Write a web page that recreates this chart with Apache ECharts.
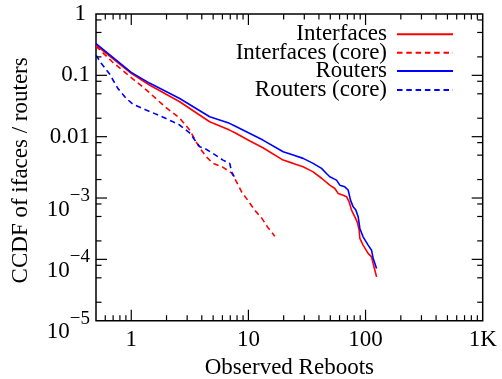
<!DOCTYPE html>
<html><head><meta charset="utf-8">
<script src="https://cdn.jsdelivr.net/npm/echarts@6/dist/echarts.min.js"></script>
<style>html,body{margin:0;padding:0;background:#fff}#c{width:502px;height:379px}</style>
</head><body><div id="c"></div>
<script>
// ---- data ----
const ifaceX = [0.5, 1, 1.43, 2.59, 4.67, 6.9, 7.67, 10.3, 13.3, 19.8, 24.1, 29.3, 33.4, 35.7, 42.1, 49.5, 54.7, 58.3, 64.4, 68.8, 72.4, 75.9, 81.0, 84.8, 88.2, 89.4, 95.3, 105.2, 112.5, 116.1, 124.2];
const ifaceY = [0.312, 0.108, 0.0695, 0.0371, 0.0175, 0.0128, 0.0116, 0.0085, 0.0066, 0.00415, 0.00367, 0.00323, 0.00285, 0.00267, 0.0021, 0.00162, 0.00143, 0.00119, 0.00111, 0.00105, 0.000867, 0.000635, 0.000493, 0.000409, 0.000299, 0.000219, 0.000171, 0.000125, 0.00011, 0.0000857, 0.0000519];

const ifaceCoreX = [0.5, 0.69, 1, 1.35, 1.93, 2.59, 3.15, 3.84, 4.4, 4.95, 6.03, 7.2, 7.94, 8.77, 9.86, 11.3, 13, 14.6, 16.8];
const ifaceCoreY = [0.30, 0.165, 0.092, 0.0575, 0.031, 0.0201, 0.0128, 0.00652, 0.00465, 0.00371, 0.00319, 0.00255, 0.00182, 0.00125, 0.000924, 0.000635, 0.00047, 0.000335, 0.000239];

const routerX = [0.5, 1, 1.43, 2.59, 4.67, 6.9, 7.67, 10.3, 13.3, 19.8, 24.1, 29.3, 35.7, 42.1, 46.4, 49.5, 56.5, 60.3, 66.5, 71.0, 74.4, 78.4, 82.6, 86.5, 88.2, 89.4, 95.3, 105.2, 112.5, 116.1, 124.2];
const routerY = [0.33, 0.112, 0.0748, 0.042, 0.0211, 0.0165, 0.0149, 0.0113, 0.0088, 0.00567, 0.00501, 0.00443, 0.00367, 0.00304, 0.00251, 0.00222, 0.00196, 0.00162, 0.00152, 0.00135, 0.000924, 0.000718, 0.000635, 0.000493, 0.000385, 0.000319, 0.000233, 0.000171, 0.000141, 0.000104, 0.000071];

const routerCoreX = [0.5, 0.554, 0.653, 0.768, 0.906, 1.03, 1.34, 1.74, 2.27, 2.59, 3.15, 3.84, 4.23, 4.98, 6.07, 6.93, 7.2, 7.65];
const routerCoreY = [0.214, 0.157, 0.105, 0.0613, 0.0421, 0.034, 0.0272, 0.0221, 0.0175, 0.0155, 0.0115, 0.00684, 0.00644, 0.00534, 0.00415, 0.00366, 0.00264, 0.00215];

const seriesNames = ['Interfaces', 'Interfaces (core)', 'Routers', 'Routers (core)'];

const xMajor = [1, 10, 100];
const xMajorLabels = {0: '1', 1: '10', 2: '100', 3: '1K'};
const xMinor = [0.6, 0.7, 0.8, 0.9, 2, 3, 4, 5, 6, 7, 8, 9, 20, 30, 40, 50, 60, 70, 80, 90, 200, 300, 400, 500, 600, 700, 800, 900];
const yMajor = [0.1, 0.01, 0.001, 0.0001];
const yMajorLabels = {0: '{one|1}', '-1': '0.1', '-2': '0.01', '-3': '{b|10}{s|\u22123}', '-4': '{b|10}{s|\u22124}', '-5': '{b|10}{s|\u22125}'};
const yMinor = [0.8, 0.5, 0.2, 0.08, 0.05, 0.02, 0.008, 0.005, 0.002, 0.0008, 0.0005, 0.0002, 0.00008, 0.00005, 0.00002];

// ---- chart ----
const FONT = 'Liberation Serif';
const zip = (xs, ys) => xs.map((x, i) => [x, ys[i]]);
const RED = '#ff0000', BLUE = '#0000ff';
const DASH = [5.5, 3.8];

const tickData = []
  .concat(xMajor.map(v => [v, 1, 0, 11]))
  .concat(xMinor.map(v => [v, 1, 0, 5.5]))
  .concat(yMajor.map(v => [1, v, 1, 11]))
  .concat(yMinor.map(v => [1, v, 1, 5.5]));

const X_MIN = 0.5, X_MAX = 1000, Y_MIN = 1e-5, Y_MAX = 1;

function lineSeries(name, data, color, dashed) {
  return {
    name: name, type: 'line', data: data, symbol: 'none', smooth: false,
    lineStyle: {color: color, width: 1.6, type: dashed ? DASH : 'solid'},
    itemStyle: {color: color},
    emphasis: {disabled: true}, animation: false
  };
}

const legendTops = [22.3, 40.7, 59, 78];
const legends = seriesNames.map((n, i) => ({
  data: [n], right: 48, top: legendTops[i], orient: 'vertical', align: 'right',
  itemWidth: 56, itemHeight: 10, itemGap: 0, padding: 0, selectedMode: false,
  itemStyle: {opacity: 0, borderWidth: 0},
  textStyle: {fontFamily: FONT, fontSize: 23, color: '#000', lineHeight: 20, padding: [4, 5, 0, 0]}
}));

const chart = echarts.init(document.getElementById('c'), null, {renderer: 'canvas'});
chart.setOption({
  animation: false,
  backgroundColor: '#fff',
  legend: legends,
  grid: {left: 96, top: 14, width: 386.7, height: 306.7, show: true, borderColor: '#000', borderWidth: 1.5,
         backgroundColor: 'transparent', containLabel: false, outerBoundsMode: 'none'},
  xAxis: {
    type: 'log', logBase: 10, min: X_MIN, max: X_MAX,
    axisLine: {show: false}, axisTick: {show: false}, splitLine: {show: false}, minorTick: {show: false},
    axisLabel: {
      margin: 7.5, fontFamily: FONT, fontSize: 23, color: '#000', hideOverlap: false,
      formatter: v => { const e = Math.log10(v); const r = Math.round(e); return Math.abs(e - r) < 1e-6 && xMajorLabels[r] !== undefined ? xMajorLabels[r] : ''; }
    },
    name: 'Observed Reboots', nameLocation: 'middle', nameGap: 35,
    nameTextStyle: {fontFamily: FONT, fontSize: 23, color: '#000'}
  },
  yAxis: {
    type: 'log', logBase: 10, min: Y_MIN, max: Y_MAX,
    axisLine: {show: false}, axisTick: {show: false}, splitLine: {show: false}, minorTick: {show: false},
    axisLabel: {
      margin: 6, fontFamily: FONT, fontSize: 23, color: '#000', showMinLabel: true, showMaxLabel: true, hideOverlap: false,
      formatter: v => { const e = Math.log10(v); const r = Math.round(e); return Math.abs(e - r) < 1e-6 && yMajorLabels[r] !== undefined ? yMajorLabels[r] : ''; },
      rich: {
        one: {fontFamily: FONT, fontSize: 23, color: '#000', padding: [0, 4, 0, 0]},
        b: {fontFamily: FONT, fontSize: 23, lineHeight: 23, color: '#000', padding: [23, 0, 0, 0]},
        s: {fontFamily: FONT, fontSize: 19, lineHeight: 19, color: '#000', padding: [0, 0, 4, 0]}
      }
    },
    name: 'CCDF of ifaces / routers', nameLocation: 'middle', nameGap: 64,
    nameTextStyle: {fontFamily: FONT, fontSize: 23, color: '#000', padding: [0, 6, 0, 0]}
  },
  series: [
    lineSeries(seriesNames[0], zip(ifaceX, ifaceY), RED, false),
    lineSeries(seriesNames[1], zip(ifaceCoreX, ifaceCoreY), RED, true),
    lineSeries(seriesNames[2], zip(routerX, routerY), BLUE, false),
    lineSeries(seriesNames[3], zip(routerCoreX, routerCoreY), BLUE, true),
    {
      type: 'custom', data: tickData, silent: true, z: 5, clip: false,
      renderItem: function (params, api) {
        const kind = api.value(2), len = api.value(3);
        const st = {stroke: '#000', lineWidth: 1.2};
        if (kind === 0) {
          const v = api.value(0);
          const b = api.coord([v, Y_MIN]), t = api.coord([v, Y_MAX]);
          return {type: 'group', children: [
            {type: 'line', shape: {x1: b[0], y1: b[1], x2: b[0], y2: b[1] - len}, style: st},
            {type: 'line', shape: {x1: t[0], y1: t[1], x2: t[0], y2: t[1] + len}, style: st}
          ]};
        } else {
          const v = api.value(1);
          const l = api.coord([X_MIN, v]), r = api.coord([X_MAX, v]);
          return {type: 'group', children: [
            {type: 'line', shape: {x1: l[0], y1: l[1], x2: l[0] + len, y2: l[1]}, style: st},
            {type: 'line', shape: {x1: r[0], y1: r[1], x2: r[0] - len, y2: r[1]}, style: st}
          ]};
        }
      }
    }
  ]
});
</script>
</body></html>
